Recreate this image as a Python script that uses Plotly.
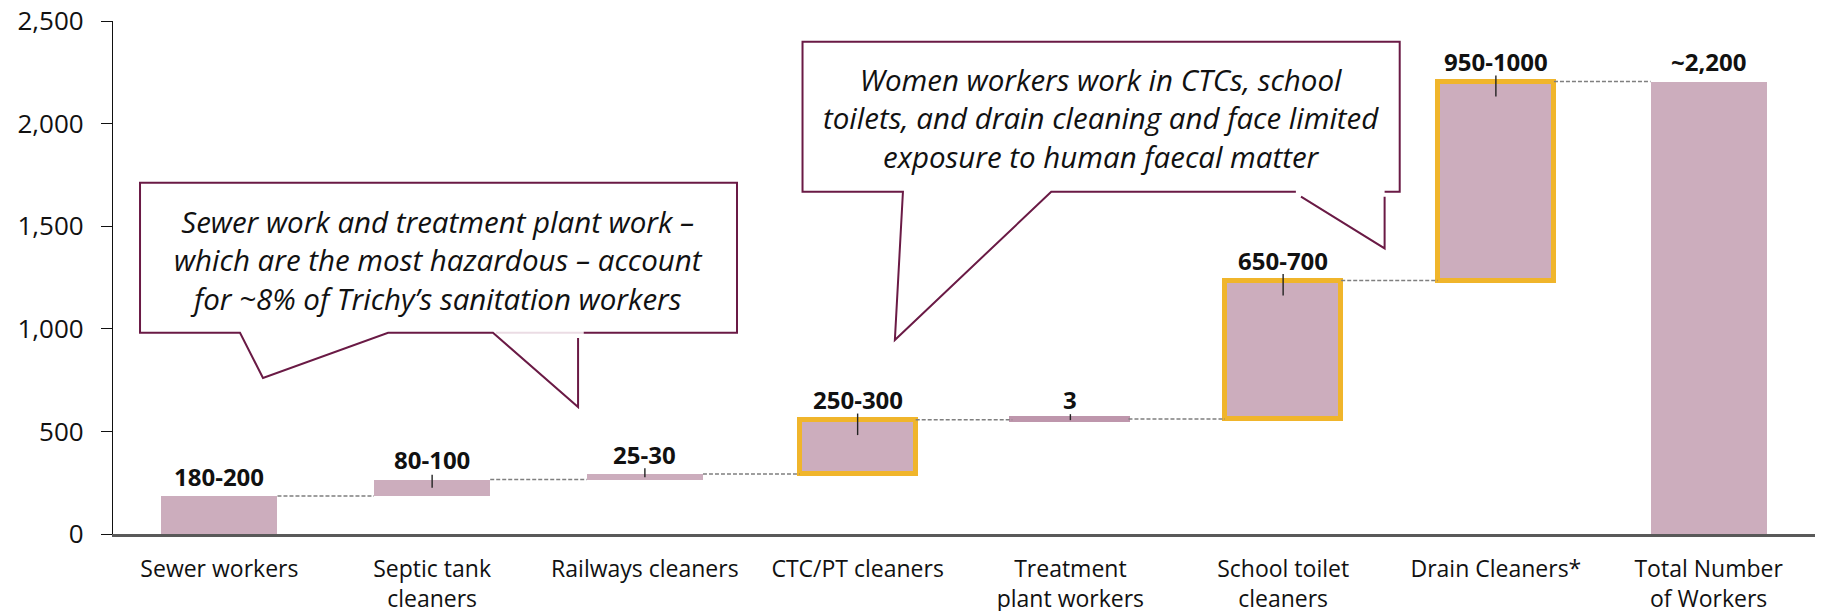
import plotly.graph_objects as go

# ---- data -------------------------------------------------------------
categories = [
    "Sewer workers",
    "Septic tank<br>cleaners",
    "Railways cleaners",
    "CTC/PT cleaners",
    "Treatment<br>plant workers",
    "School toilet<br>cleaners",
    "Drain Cleaners*",
    "Total Number<br>of Workers",
]
increments = [185, 80, 27, 265, 3, 675, 970]
total_workers = 2205
value_labels = ["180-200", "80-100", "25-30", "250-300", "3", "650-700", "950-1000", "~2,200"]
tick_above = [0, 24, 28, 30, 24, 32, 30, 0]
tick_below = [0, 40, 15, 75, 5, 73, 73, 0]
highlighted = [False, False, False, True, False, True, True, False]
y_ticks = [0, 500, 1000, 1500, 2000, 2500]

# ---- derived waterfall geometry ----------------------------------------
bases, running = [], 0
for v in increments:
    bases.append(running)
    running += v
bases.append(0)
heights = increments + [total_workers]
tops = [b + h for b, h in zip(bases, heights)]
xs = list(range(len(categories)))

BAR_W = 0.546
FILL = "#CCADBD"
GOLD = "#F0B52B"
MAROON = "#6A1A45"
FONT = "Open Sans"

line_colors, line_widths, fills = [], [], []
for h, hl in zip(heights, highlighted):
    if hl:
        line_colors.append(GOLD); line_widths.append(5); fills.append(FILL)
    elif h < 10:
        line_colors.append("#BE96AC"); line_widths.append(5); fills.append("#C9A3B7")
    else:
        line_colors.append(FILL); line_widths.append(0); fills.append(FILL)

fig = go.Figure()

# dashed connectors between consecutive bars
cx, cy = [], []
for i in range(len(categories) - 1):
    level = tops[i]
    cx += [i + BAR_W / 2, i + 1 - BAR_W / 2, None]
    cy += [level, level, None]
fig.add_trace(go.Scatter(
    x=cx, y=cy, mode="lines", hoverinfo="skip", showlegend=False,
    line=dict(color="#7F7F7F", width=1.5, dash="4px,2px"),
))

fig.add_trace(go.Bar(
    x=xs, y=heights, base=bases, width=BAR_W,
    marker=dict(color=fills, line=dict(color=line_colors, width=line_widths)),
    showlegend=False, hoverinfo="skip",
))

# small range ticks at the top of each step
fig.add_trace(go.Scatter(
    x=xs, y=tops, mode="markers", marker=dict(size=0.1, color="rgba(0,0,0,0)"),
    error_y=dict(type="data", symmetric=False, array=tick_above, arrayminus=tick_below,
                 color="#222222", thickness=1.4, width=0),
    showlegend=False, hoverinfo="skip",
))

annotations = []
for x, top, lab in zip(xs, tops, value_labels):
    annotations.append(dict(
        x=x, y=top, xref="x", yref="y", text=f"<b>{lab}</b>", showarrow=False,
        yanchor="middle", yshift=20, font=dict(family=FONT, size=24, color="#111111"),
    ))

# ---- callouts ----------------------------------------------------------
def path(points, close=False):
    s = "M " + " L ".join(f"{x},{y}" for x, y in points)
    return s + (" Z" if close else "")

shapes = []

# left callout (box, two tails)
box1 = dict(l=-0.373, r=2.433, b=981, t=1712)
fill1 = [(box1["l"], box1["b"]), (0.097, box1["b"]), (0.205, 760), (0.793, box1["b"]),
         (1.286, box1["b"]), (1.686, 619), (1.686, box1["b"]), (box1["r"], box1["b"]),
         (box1["r"], box1["t"]), (box1["l"], box1["t"])]
shapes.append(dict(type="path", xref="x", yref="y", path=path(fill1, True),
                   fillcolor="white", line=dict(width=0), layer="above"))
outline1 = [(1.712, box1["b"]), (box1["r"], box1["b"]), (box1["r"], box1["t"]),
            (box1["l"], box1["t"]), (box1["l"], box1["b"]), (0.097, box1["b"]),
            (0.205, 760), (0.793, box1["b"]), (1.286, box1["b"]), (1.686, 619), (1.686, 955)]
shapes.append(dict(type="path", xref="x", yref="y", path=path(outline1),
                   fillcolor="rgba(0,0,0,0)", line=dict(color=MAROON, width=2), layer="above"))
shapes.append(dict(type="line", xref="x", yref="y", x0=1.30, x1=1.71, y0=box1["b"], y1=box1["b"],
                   line=dict(color="#EBDCE4", width=2), layer="above"))

# right callout (box, two tails)
box2 = dict(l=2.741, r=5.548, b=1668, t=2399)
fill2 = [(box2["l"], box2["b"]), (3.213, box2["b"]), (3.175, 945), (3.910, box2["b"]),
         (5.060, box2["b"]), (5.477, 1392), (5.477, box2["b"]), (box2["r"], box2["b"]),
         (box2["r"], box2["t"]), (box2["l"], box2["t"])]
shapes.append(dict(type="path", xref="x", yref="y", path=path(fill2, True),
                   fillcolor="white", line=dict(width=0), layer="above"))
outline2 = [(5.477, box2["b"]), (box2["r"], box2["b"]), (box2["r"], box2["t"]),
            (box2["l"], box2["t"]), (box2["l"], box2["b"]), (3.213, box2["b"]),
            (3.175, 945), (3.910, box2["b"]), (5.060, box2["b"])]
shapes.append(dict(type="path", xref="x", yref="y", path=path(outline2),
                   fillcolor="rgba(0,0,0,0)", line=dict(color=MAROON, width=2), layer="above"))
shapes.append(dict(type="path", xref="x", yref="y",
                   path=path([(5.084, 1644), (5.477, 1392), (5.477, 1644)]),
                   fillcolor="rgba(0,0,0,0)", line=dict(color=MAROON, width=2), layer="above"))

callout_font = dict(family=FONT, size=29.5, color="#111111")
annotations.append(dict(
    x=(box1["l"] + box1["r"]) / 2, y=1336, xref="x", yref="y", showarrow=False,
    yanchor="middle", align="center", font=callout_font,
    text="<i>Sewer work and treatment plant work –<br>which are the most hazardous – account<br>"
         "for ~8% of Trichy’s sanitation workers</i>",
))
annotations.append(dict(
    x=(box2["l"] + box2["r"]) / 2, y=2026, xref="x", yref="y", showarrow=False,
    yanchor="middle", align="center", font=callout_font,
    text="<i>Women workers work in CTCs, school<br>toilets, and drain cleaning and face limited<br>"
         "exposure to human faecal matter</i>",
))

fig.update_layout(
    width=1821, height=611,
    margin=dict(l=113, r=6, t=21, b=77, autoexpand=False),
    paper_bgcolor="white", plot_bgcolor="white",
    shapes=shapes, annotations=annotations,
    bargap=0, showlegend=False,
    font=dict(family=FONT, color="#111111"),
)
fig.update_xaxes(
    range=[-0.5, len(categories) - 0.5], tickmode="array", tickvals=xs, ticktext=categories,
    ticks="", showgrid=False, zeroline=False, showline=True, linecolor="#595959", linewidth=2.5,
    tickfont=dict(family=FONT, size=23, color="#111111"), ticklabelstandoff=13,
    automargin=False,
)
fig.update_yaxes(
    range=[0, 2500], tickmode="array", tickvals=y_ticks, tickformat=",",
    ticks="outside", ticklen=11, tickwidth=1.3, tickcolor="#111111",
    showgrid=False, zeroline=False, showline=True, linecolor="#111111", linewidth=1.3,
    tickfont=dict(family=FONT, size=26, color="#111111"), ticklabelstandoff=12,
    automargin=False,
)

fig.write_html("out.html")
